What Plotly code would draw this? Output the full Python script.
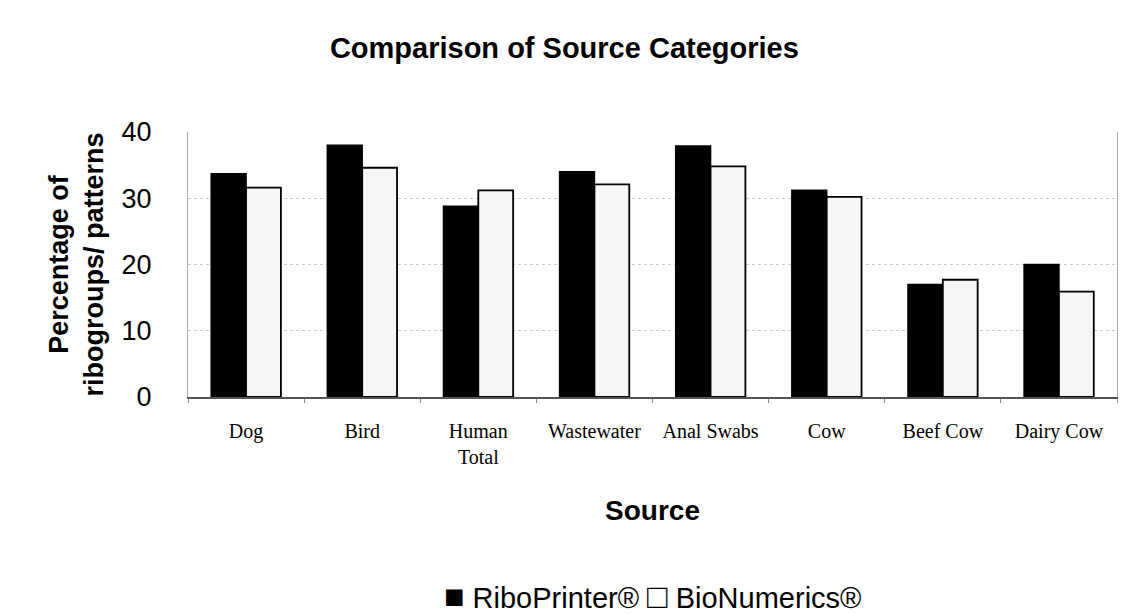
import plotly.graph_objects as go

categories = ["Dog", "Bird", "Human<br>Total", "Wastewater", "Anal Swabs", "Cow", "Beef Cow", "Dairy Cow"]
riboprinter = [33.7, 38.0, 28.8, 34.0, 37.9, 31.2, 17.0, 20.0]
bionumerics = [31.6, 34.6, 31.2, 32.1, 34.8, 30.2, 17.7, 15.9]
y_ticks = [0, 10, 20, 30, 40]
series_names = ["RiboPrinter®", "BioNumerics®"]

W, H = 1122, 614
T, B = 132, 217
SANS = "Liberation Sans, Arial"
SERIF = "Liberation Serif, Times New Roman"
plot_h = H - T - B

fig = go.Figure()
fig.add_trace(go.Bar(
    x=categories, y=riboprinter, name=series_names[0],
    marker=dict(color="#000000", line=dict(color="#000000", width=1.5)),
))
fig.add_trace(go.Bar(
    x=categories, y=bionumerics, name=series_names[1],
    marker=dict(color="#f6f6f6", line=dict(color="#000000", width=1.8)),
))

legend_text = ('<span style="font-size:34px">■</span> ' + series_names[0] +
               ' <span style="font-size:34px">□</span> ' + series_names[1])

fig.update_layout(
    width=W, height=H,
    margin=dict(l=188, r=5, t=T, b=B),
    paper_bgcolor="white", plot_bgcolor="white",
    barmode="group", bargap=0.4, bargroupgap=0,
    title=dict(
        text="<b>Comparison of Source Categories</b>",
        x=0.503, xref="container", xanchor="center",
        y=1 - 48 / H, yref="container", yanchor="middle",
        font=dict(family=SANS, size=29, color="#000"),
    ),
    font=dict(family=SANS, color="#000"),
    showlegend=False,
    annotations=[dict(
        text=legend_text,
        xref="paper", yref="paper",
        x=0.5, y=-(596 - (H - B)) / plot_h, xanchor="center", yanchor="middle",
        showarrow=False,
        font=dict(family=SANS, size=29, color="#000"),
    )],
)

fig.update_xaxes(
    showline=True, linecolor="#555555", linewidth=1.5, mirror=False,
    ticks="outside", tickson="boundaries", ticklen=4, tickcolor="#888888",
    ticklabelstandoff=15,
    tickfont=dict(family=SERIF, size=20, color="#000"),
    showgrid=False,
    title=dict(text="<b>Source</b>", font=dict(family=SANS, size=28, color="#000"), standoff=34),
)
fig.update_yaxes(
    range=[0, 40], tickvals=y_ticks,
    showline=True, linecolor="#aaaaaa", linewidth=1, mirror=True,
    showgrid=True, gridcolor="#cccccc", gridwidth=1, griddash="dot",
    ticks="", ticklabelstandoff=30,
    tickfont=dict(family=SANS, size=27, color="#000"),
    zeroline=False,
    title=dict(text="<b>Percentage of<br>ribogroups/ patterns</b>",
               font=dict(family=SANS, size=27, color="#000"), standoff=10),
)

fig.write_html("out.html")
